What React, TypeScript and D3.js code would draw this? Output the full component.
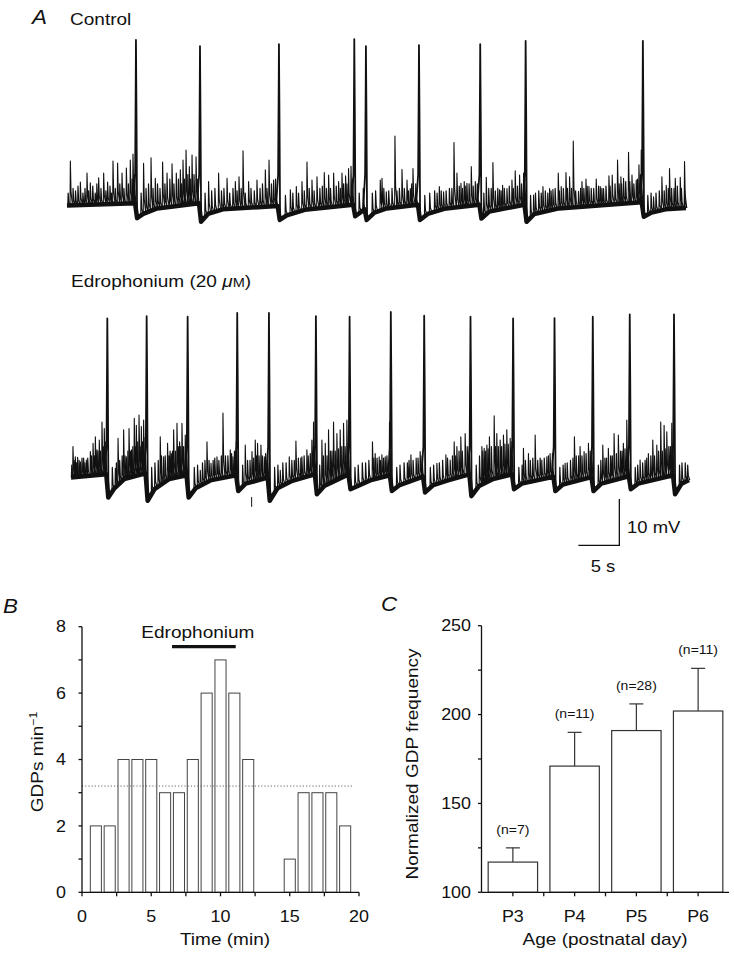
import React from "react";
import * as d3 from "d3";

const FONT = "'Liberation Sans', Arial, Helvetica, sans-serif";
const SX = 1.12;
const INK = "#111";

// ---------------- Panel A (time in s, potential in mV above resting level) ----------------
const controlDuration = 75.5;
const controlGDPs: [number, number][] = [
  [8.41, 36.0], [16.22, 34.7], [25.85, 35.1], [35.04, 36.2], [36.46, 34.7],
  [42.93, 34.9], [50.4, 35.1], [55.94, 35.8], [70.24, 35.8],
];
const controlBaseline: [number, number][] = [
  [0, 0.3], [8.3, 0.8], [8.55, -2.4], [9.3, -1.5], [11, -0.3], [16.1, 0.8], [16.35, -3.2],
  [17.2, -1.5], [19, -0.5], [25.7, 0.2], [25.95, -2.8], [26.8, -1.8], [29, -0.6], [34.9, 0.5],
  [35.15, -2.0], [36.3, -0.5], [36.55, -2.8], [37.5, -1.2], [39, -0.3], [42.8, 0.5], [43.05, -2.8],
  [44.0, -1.5], [46, -0.4], [50.3, 0.5], [50.55, -2.5], [51.5, -1.0], [55.8, 0.5], [56.05, -3.2],
  [57.0, -1.5], [60, -0.3], [70.1, 1.0], [70.35, -2.1], [71.3, -1.2], [73, -0.5], [75.5, -0.2],
];
const controlEvents: [number, number][] = [
  [0.37, 9.9], [1.59, 5.4], [2.4, 7.3], [2.8, 5.2], [3.82, 6.3], [4.43, 7.3], [4.91, 5.4], [5.57, 9.9],
  [6.13, 9.5], [6.67, 7.3], [7.2, 8.4], [7.68, 10.1], [8.01, 11.4],
  [9.3, 9.4], [10.21, 10.6], [10.73, 6.2], [11.62, 9.7], [12.16, 7.3], [12.77, 9.3], [13.29, 7.3],
  [13.78, 8.0], [14.11, 10.1], [14.48, 12.3], [14.88, 8.7], [15.21, 11.2], [15.7, 10.8],
  [17.23, 5.5], [18.45, 7.3], [19.48, 6.2], [20.49, 5.5], [20.94, 6.5], [21.43, 12.1], [22.11, 5.5],
  [23.13, 5.8], [24.15, 8.0], [24.6, 10.1], [25.16, 5.8],
  [27.2, 3.7], [27.93, 4.4], [28.62, 5.5], [29.23, 9.7], [29.84, 5.8], [30.45, 6.5], [31.34, 7.4],
  [31.87, 6.9], [32.48, 7.3], [33.09, 5.5], [33.5, 7.3], [33.94, 6.7], [34.3, 8.3], [34.6, 8.8],
  [38.17, 5.8], [38.38, 6.2], [38.9, 3.3], [39.96, 15.3], [40.82, 8.1], [41.43, 5.8], [41.83, 4.0], [42.16, 8.3],
  [45.37, 4.4], [45.89, 3.3], [47.16, 13.9], [47.52, 7.3], [48.01, 5.1], [48.41, 5.5], [48.74, 5.1],
  [49.27, 8.7], [49.76, 5.5],
  [51.1, 6.4], [51.91, 9.6], [52.72, 3.7], [53.09, 4.7], [53.62, 4.0], [54.23, 5.8], [54.63, 7.8],
  [55.16, 6.9], [55.65, 7.3],
  [56.87, 2.6], [58.01, 4.4], [58.82, 4.0], [59.23, 3.8], [59.88, 7.3], [60.24, 4.4], [60.82, 7.4],
  [61.26, 6.5], [61.71, 14.2], [62.35, 3.4], [62.77, 5.5], [63.26, 6.0], [63.62, 4.4], [64.51, 6.0],
  [65.0, 4.4], [65.4, 4.0], [66.06, 6.7], [66.46, 6.9], [67.11, 10.1], [67.52, 6.5], [67.84, 6.2],
  [68.45, 11.8], [68.87, 6.9], [69.39, 5.8], [69.72, 9.1], [70.0, 12.3],
  [71.5, 2.2], [72.52, 6.5], [73.05, 4.7], [73.45, 8.3], [74.15, 6.2], [74.76, 6.4], [75.28, 9.8],
];
// small, dense synaptic events that thicken the baseline band
const controlMinor: [number, number][] = [
  [0.1, 3], [0.7, 4], [1.0, 3.5], [1.3, 4.5], [1.9, 3], [2.15, 4], [2.6, 3.5], [3.1, 4.5], [3.4, 3], [3.6, 5],
  [4.1, 4], [4.7, 3.5], [5.2, 4.5], [5.4, 3], [5.85, 4], [6.4, 5], [6.9, 4], [7.45, 5], [7.9, 6], [8.2, 7],
  [9.0, 3], [9.6, 4], [9.9, 5], [10.45, 4], [11.0, 5], [11.3, 4], [11.9, 5], [12.5, 6], [13.0, 5], [13.55, 6],
  [13.95, 5], [14.3, 6], [14.7, 7], [15.05, 6], [15.45, 7], [15.9, 6],
  [16.8, 3], [17.6, 3.5], [18.0, 4], [18.8, 3.5], [19.1, 4], [19.8, 3], [20.2, 4], [20.7, 3.5], [21.2, 4],
  [21.7, 3], [22.4, 4], [22.8, 3.5], [23.5, 4], [23.8, 5], [24.35, 4], [24.9, 5], [25.4, 6],
  [26.6, 2.5], [27.5, 3], [28.2, 3], [28.9, 3.5], [29.5, 4], [30.1, 3.5], [30.8, 4], [31.1, 4.5], [31.6, 4],
  [32.1, 4], [32.8, 4.5], [33.3, 4], [33.7, 5], [34.1, 5], [34.8, 6],
  [35.6, 3], [36.1, 4], [37.2, 3], [37.6, 3.5], [38.6, 4], [39.2, 3.5], [39.6, 4], [40.2, 3.5], [40.5, 4],
  [41.1, 4], [41.6, 3.5], [42.0, 5], [42.5, 5],
  [43.6, 2.5], [44.2, 3], [44.8, 3.5], [45.1, 3], [45.6, 3.5], [46.2, 3.5], [46.6, 4], [46.9, 4], [47.8, 4.5],
  [48.2, 4], [48.6, 4.5], [49.0, 5], [49.5, 4.5], [50.0, 5],
  [50.8, 3], [51.4, 4], [51.7, 4], [52.2, 3.5], [52.5, 4], [52.9, 3.5], [53.3, 4], [53.9, 4.5], [54.4, 4],
  [54.9, 4.5], [55.4, 5], [55.8, 6],
  [56.5, 2.5], [57.1, 3], [57.5, 3.5], [57.8, 3], [58.3, 3.5], [58.6, 3], [59.0, 3.5], [59.5, 4], [60.0, 3.5],
  [60.5, 4], [61.0, 4], [61.5, 4], [62.0, 3.5], [62.6, 4], [63.0, 4], [63.4, 4.5], [63.9, 4], [64.2, 4],
  [64.8, 4.5], [65.2, 4], [65.7, 4.5], [66.2, 4.5], [66.8, 5], [67.3, 5], [67.6, 5], [68.1, 5.5], [68.6, 5.5],
  [69.1, 5], [69.55, 6], [69.9, 7],
  [70.8, 2.5], [71.2, 3], [71.8, 3], [72.2, 3.5], [72.8, 3.5], [73.3, 4], [73.7, 4], [74.0, 4], [74.4, 4.5],
  [74.9, 4], [75.3, 3.5],
];

const edroDuration = 75.4;
const edroGDPs: [number, number][] = [
  [4.43, 34.6], [9.23, 35.1], [14.23, 35.0], [20.28, 35.8], [24.15, 35.8], [29.88, 35.1],
  [33.99, 35.0], [39.02, 36.0], [43.09, 35.2], [48.74, 35.0], [53.94, 34.6], [58.99, 34.7],
  [63.66, 35.0], [68.17, 35.5], [73.57, 35.5],
];
const edroBaseline: [number, number][] = [
  [0, 0.3], [4.3, 1.0], [4.55, -4.0], [5.3, -2], [6.5, 0], [9.1, 1.2], [9.35, -4.7], [10.2, -2.2],
  [12, 0], [14.1, 0.8], [14.35, -4.0], [15.2, -2.0], [17, -0.3], [20.15, 0.8], [20.4, -2.6],
  [21.3, -1.0], [24.0, 0.3], [24.25, -4.7], [25.2, -2.0], [27, -0.4], [29.75, 1.0], [30.0, -3.3],
  [30.9, -1.5], [33.85, 1.0], [34.1, -2.2], [35.0, -1.5], [36.5, -0.3], [38.9, 0.8], [39.15, -2.6],
  [40.1, -1.3], [42.95, 0.5], [43.2, -2.9], [44.2, -1.3], [46, -0.3], [48.6, 1.0], [48.85, -3.7],
  [49.8, -1.5], [51.5, 0], [53.8, 1.0], [54.05, -2.2], [55.0, -1.0], [58.85, 0.5], [59.1, -2.6],
  [60.0, -1.2], [63.5, 0.4], [63.75, -2.6], [64.7, -1.0], [68.05, 0.6], [68.3, -2.2], [69.2, -1.0],
  [73.45, 0.8], [73.7, -3.3], [74.5, -1.0], [75.4, -0.2],
];
const edroEvents: [number, number][] = [
  [0.2, 7.0], [0.49, 4.8], [0.77, 4.7], [1.1, 3.7], [1.5, 4.5], [1.83, 4.1], [2.32, 5.9], [2.65, 7.7],
  [2.93, 9.1], [3.13, 6.3], [3.41, 8.4], [3.74, 12.3], [4.02, 10.9],
  [5.37, 2.3], [5.7, 8.8], [6.38, 10.6], [6.71, 4.8], [7.04, 10.9], [7.35, 6.3], [7.68, 13.1],
  [7.93, 11.6], [8.26, 13.8], [8.54, 11.3], [8.82, 12.7],
  [10.85, 9.1], [11.26, 4.8], [11.74, 7.7], [12.2, 5.5], [12.48, 10.6], [12.89, 12.0], [13.21, 8.0],
  [13.5, 12.0], [13.9, 9.5],
  [15.73, 1.9], [16.55, 8.0], [17.04, 3.4], [17.77, 4.8], [18.5, 14.2], [19.39, 6.3], [19.72, 4.8], [20.12, 8.0],
  [21.22, 7.3], [22.04, 5.9], [22.44, 8.4], [22.72, 7.7], [23.13, 7.3], [23.54, 4.8],
  [25.49, 1.9], [26.59, 4.8], [27.4, 8.2], [28.13, 4.8], [28.74, 6.3], [29.35, 8.4], [29.55, 12.3],
  [30.57, 8.4], [30.98, 7.7], [31.38, 10.6], [31.99, 12.3], [32.4, 9.8], [32.8, 10.6], [33.21, 12.0], [33.62, 12.7],
  [36.74, 8.0], [37.07, 5.5], [37.56, 4.8], [37.89, 5.2], [38.29, 4.8], [38.82, 12.3],
  [41.43, 5.2], [42.07, 4.5], [42.56, 5.9],
  [44.6, 3.4], [45.7, 5.2], [46.22, 4.1], [46.71, 8.0], [47.04, 7.0], [47.52, 9.1], [48.05, 9.8],
  [50.09, 7.0], [50.37, 6.6], [50.7, 7.3], [51.01, 9.1], [51.59, 13.6], [51.91, 9.8], [52.32, 8.4],
  [52.72, 9.5], [53.13, 10.6], [53.54, 8.8],
  [55.16, 6.6], [55.77, 5.5], [56.59, 9.5], [57.4, 4.1], [58.01, 4.8], [58.41, 5.5],
  [60.24, 3.4], [61.38, 9.1], [62.07, 7.0], [62.56, 5.9], [63.09, 7.7],
  [64.84, 7.3], [65.52, 6.6], [66.22, 9.8], [66.74, 9.5], [67.35, 7.7], [67.77, 12.7],
  [69.39, 4.1], [70.4, 5.5], [70.94, 8.4], [71.43, 7.3], [71.91, 12.3], [72.32, 11.6], [72.65, 10.2], [73.26, 12.0],
];
const edroMinor: [number, number][] = [
  [0.05, 3], [0.35, 4], [0.63, 3.5], [0.95, 4], [1.3, 4.5], [1.65, 3.5], [2.0, 4.5], [2.45, 5], [2.8, 5],
  [3.25, 6], [3.55, 6], [3.9, 7], [4.2, 8],
  [5.0, 2.5], [5.5, 3.5], [5.9, 4], [6.2, 5], [6.55, 5], [6.9, 6], [7.2, 6], [7.5, 7], [7.8, 7], [8.1, 8],
  [8.4, 7], [8.7, 8], [9.0, 9],
  [9.8, 2.5], [10.2, 3.5], [10.6, 4], [11.0, 5], [11.45, 5], [11.9, 5], [12.05, 6], [12.35, 6], [12.7, 6],
  [13.05, 7], [13.35, 7], [13.7, 7], [14.05, 8],
  [15.0, 2.5], [15.4, 3], [16.0, 3.5], [16.3, 4], [16.8, 4], [17.3, 4], [17.5, 4.5], [18.0, 4], [18.3, 5],
  [18.8, 5], [19.1, 5], [19.55, 5.5], [19.9, 6], [20.15, 7],
  [20.9, 3], [21.5, 4], [21.8, 4], [22.25, 4.5], [22.6, 5], [22.9, 5], [23.3, 5], [23.7, 5.5], [23.95, 6],
  [24.8, 2.5], [25.2, 3], [25.8, 3.5], [26.2, 3.5], [26.9, 4], [27.2, 4], [27.7, 4.5], [28.0, 4.5], [28.4, 5],
  [28.9, 5], [29.15, 5.5], [29.7, 7],
  [30.3, 3], [30.75, 5], [31.2, 5], [31.6, 6], [31.8, 6], [32.2, 6], [32.6, 6.5], [33.0, 7], [33.4, 7], [33.8, 8],
  [34.6, 2.5], [35.0, 3], [35.5, 3.5], [35.9, 3.5], [36.3, 4], [36.9, 4.5], [37.3, 4.5], [37.7, 4], [38.1, 4.5],
  [38.5, 5], [38.9, 6],
  [39.7, 2.5], [40.1, 3], [40.6, 3.5], [41.0, 3.5], [41.2, 4], [41.7, 4], [42.3, 4.5], [42.8, 5],
  [43.8, 2.5], [44.2, 3], [44.9, 3.5], [45.3, 4], [45.9, 4.5], [46.5, 5], [46.9, 5], [47.3, 6], [47.7, 6],
  [48.3, 7], [48.55, 7],
  [49.4, 3], [49.8, 5], [50.2, 6], [50.55, 6], [50.85, 6.5], [51.25, 7], [51.75, 7], [52.1, 7], [52.5, 7],
  [52.9, 7.5], [53.3, 7.5], [53.75, 8],
  [54.6, 2.5], [55.0, 3], [55.4, 4], [56.0, 4], [56.3, 4.5], [56.9, 4], [57.2, 4.5], [57.7, 4.5], [58.2, 5], [58.7, 5.5],
  [59.6, 2.5], [60.0, 3], [60.5, 3.5], [60.9, 4], [61.2, 4.5], [61.6, 5], [61.9, 5], [62.3, 5], [62.8, 5.5],
  [63.3, 6], [63.5, 6],
  [64.3, 3], [64.6, 4], [65.1, 4.5], [65.3, 4.5], [65.8, 5], [66.0, 5], [66.5, 5.5], [67.0, 6], [67.2, 6],
  [67.55, 6.5], [67.95, 7],
  [68.8, 2.5], [69.1, 3], [69.7, 3.5], [70.0, 4], [70.2, 4.5], [70.7, 5], [71.15, 5], [71.65, 6], [72.1, 6],
  [72.45, 6.5], [72.9, 7], [73.1, 7], [73.4, 7.5],
  [74.2, 3], [74.5, 3.5], [74.9, 3.5], [75.2, 3],
];
const edroArtifact: [number, number, number] = [22.04, -3.9, -6.0];
const scaleBarSeconds = 5;
const scaleBarMillivolts = 10;

// ---------------- Panel B ----------------
const minutes = [1, 2, 3, 4, 5, 6, 7, 8, 9, 10, 11, 12, 13, 14, 15, 16, 17, 18, 19];
const gdpRate = [2, 2, 4, 4, 4, 3, 3, 4, 6, 7, 6, 4, 0, 0, 1, 3, 3, 3, 2];
const controlMeanRate = 3.2;
const drugPeriod: [number, number] = [6.5, 11.1];
const bXTicks = [0, 2.5, 5, 7.5, 10, 12.5, 15, 17.5, 20];
const bXLabels = [0, 5, 10, 15, 20];
const bYTicks = [0, 1, 2, 3, 4, 5, 6, 7, 8];
const bYLabels = [0, 2, 4, 6, 8];

// ---------------- Panel C ----------------
const ages = ["P3", "P4", "P5", "P6"];
const normFreq = [117, 171, 191, 202];
const normSem = [8, 19, 15, 24];
const nCells = [7, 11, 28, 11];
const cYTicks = [100, 125, 150, 175, 200, 225, 250];
const cYLabels = [100, 150, 200, 250];

type TP = {
  x: number; y: number; size: number; anchor?: string; rotate?: number; italic?: boolean;
  children?: React.ReactNode; sx?: number;
};
function T({ x, y, size, anchor = "start", rotate = 0, italic = false, children, sx = SX }: TP) {
  return (
    <text
      transform={`translate(${x},${y})${rotate ? ` rotate(${rotate})` : ""} scale(${sx},1)`}
      fontSize={size}
      textAnchor={anchor as any}
      fontFamily={FONT}
      fontStyle={italic ? "italic" : "normal"}
      fill={INK}
    >
      {children}
    </text>
  );
}

function Trace({
  baseline, events, minor, gdps, x, y,
}: {
  baseline: [number, number][]; events: [number, number][]; minor: [number, number][];
  gdps: [number, number][];
  x: d3.ScaleLinear<number, number>; y: d3.ScaleLinear<number, number>;
}) {
  const b = d3.scaleLinear().domain(baseline.map((d) => d[0])).range(baseline.map((d) => d[1])).clamp(true);
  const line = d3.line<[number, number]>().x((d) => x(d[0])).y((d) => y(d[1]));
  const basePath = line(baseline) || "";
  const evShape = ([t, a]: [number, number]) =>
    line([[t, b(t)], [t + 0.04, a], [t + 0.12, b(t) + (a - b(t)) * 0.3], [t + 0.3, b(t + 0.3)]]);
  const evPath = events.map(evShape).join("");
  const minorPath = minor.map(evShape).join("");
  const gdpPath = gdps
    .map(([t, a]) =>
      line([[t - 0.35, b(t - 0.35)], [t - 0.1, 7], [t - 0.02, a * 0.8], [t, a], [t + 0.06, a * 0.6], [t + 0.14, b(t + 0.14)]]),
    )
    .join("");
  return (
    <g fill="none" stroke={INK} strokeLinejoin="round">
      <path d={basePath} strokeWidth={4.5} />
      <path d={minorPath} strokeWidth={1.2} />
      <path d={evPath} strokeWidth={1.1} />
      <path d={gdpPath} strokeWidth={1.8} />
    </g>
  );
}

export default function App() {
  // Panel A scales
  const xTop = d3.scaleLinear().domain([0, controlDuration]).range([67, 686]);
  const yTop = d3.scaleLinear().domain([0, 36]).range([207, 40]);
  const xBot = d3.scaleLinear().domain([0, edroDuration]).range([71, 689]);
  const yBot = d3.scaleLinear().domain([0, 36]).range([479, 312]);
  const sbT = 66.9;
  const sbV = -14.3;

  // Panel B scales
  const xB = d3.scaleLinear().domain([0, 20]).range([82, 359]);
  const yB = d3.scaleLinear().domain([0, 8]).range([892.3, 626.7]);
  const barW = 0.8;

  // Panel C scales
  const xC = d3.scaleBand<string>().domain(ages).range([482, 729]).paddingInner(0.2).paddingOuter(0.1);
  const yC = d3.scaleLinear().domain([100, 250]).range([892.3, 625.7]);
  const step = xC.step();
  const cXTicks: number[] = [];
  ages.forEach((a, i) => {
    cXTicks.push((xC(a) as number) + xC.bandwidth() / 2);
    if (i > 0) cXTicks.push((xC(a) as number) - (step - xC.bandwidth()) / 2);
  });

  return (
    <svg
      width={734}
      height={958}
      style={{ position: "absolute", left: 0, top: 0, background: "#fff" }}
    >
      <rect x={0} y={0} width={734} height={958} fill="#fff" />

      {/* ---------- Panel A ---------- */}
      <T x={32} y={24} size={20} italic>A</T>
      <T x={70} y={25} size={17}>Control</T>
      <Trace baseline={controlBaseline} events={controlEvents} minor={controlMinor} gdps={controlGDPs} x={xTop} y={yTop} />

      <T x={71} y={286.7} size={17}>
        Edrophonium (20 <tspan fontStyle="italic">μ</tspan><tspan fontSize={13}>M</tspan>)
      </T>
      <Trace baseline={edroBaseline} events={edroEvents} minor={edroMinor} gdps={edroGDPs} x={xBot} y={yBot} />
      <line
        x1={xBot(edroArtifact[0])} x2={xBot(edroArtifact[0])}
        y1={yBot(edroArtifact[1])} y2={yBot(edroArtifact[2])}
        stroke={INK} strokeWidth={1}
      />

      {/* scale bar */}
      <path
        d={`M${xBot(sbT - scaleBarSeconds)},${yBot(sbV)}H${xBot(sbT)}V${yBot(sbV + scaleBarMillivolts)}`}
        fill="none" stroke={INK} strokeWidth={1.3}
      />
      <T x={627} y={533} size={16.5}>10 mV</T>
      <T x={603} y={571.5} size={16.5} anchor="middle">5 s</T>

      {/* ---------- Panel B ---------- */}
      <T x={3} y={613} size={20} italic>B</T>
      {minutes.map((m, i) =>
        gdpRate[i] > 0 ? (
          <rect
            key={m}
            x={xB(m - barW / 2)}
            y={yB(gdpRate[i])}
            width={xB(m + barW / 2) - xB(m - barW / 2)}
            height={yB(0) - yB(gdpRate[i])}
            fill="#fff"
            stroke="#444"
            strokeWidth={1}
          />
        ) : null,
      )}
      <line
        x1={xB(0)} x2={xB(19.5)} y1={yB(controlMeanRate)} y2={yB(controlMeanRate)}
        stroke="#666" strokeWidth={1} strokeDasharray="1.2,2"
      />
      <line
        x1={xB(drugPeriod[0])} x2={xB(drugPeriod[1])} y1={yB(7.4)} y2={yB(7.4)}
        stroke={INK} strokeWidth={3.2}
      />
      <T x={(xB(drugPeriod[0]) + xB(drugPeriod[1])) / 2 - 6} y={638} size={17} anchor="middle">Edrophonium</T>
      <g stroke={INK} strokeWidth={1.3}>
        <line x1={xB(0)} x2={xB(0)} y1={yB(0)} y2={yB(8)} />
        <line x1={xB(0)} x2={xB(20)} y1={yB(0)} y2={yB(0)} />
        {bYTicks.map((t) => (
          <line key={"by" + t} x1={xB(0) - 3.5} x2={xB(0)} y1={yB(t)} y2={yB(t)} />
        ))}
        {bXTicks.map((t) => (
          <line key={"bx" + t} x1={xB(t)} x2={xB(t)} y1={yB(0)} y2={yB(0) + 4} />
        ))}
      </g>
      {bYLabels.map((t) => (
        <T key={"byl" + t} x={66} y={yB(t) + 5.7} size={16} anchor="end">{t}</T>
      ))}
      {bXLabels.map((t) => (
        <T key={"bxl" + t} x={xB(t)} y={921.7} size={16} anchor="middle">{t}</T>
      ))}
      <T x={225} y={945} size={17} anchor="middle">Time (min)</T>
      <T x={43} y={762} size={17} anchor="middle" rotate={-90}>
        GDPs min<tspan fontSize={11} dy={-6}>−1</tspan>
      </T>

      {/* ---------- Panel C ---------- */}
      <T x={381} y={611} size={20} italic>C</T>
      {ages.map((a, i) => {
        const x0 = xC(a) as number;
        const cx = x0 + xC.bandwidth() / 2;
        return (
          <g key={a}>
            <line
              x1={cx} x2={cx} y1={yC(normFreq[i])} y2={yC(normFreq[i] + normSem[i])}
              stroke="#333" strokeWidth={1.2}
            />
            <line
              x1={cx - 7} x2={cx + 7} y1={yC(normFreq[i] + normSem[i])} y2={yC(normFreq[i] + normSem[i])}
              stroke="#333" strokeWidth={1.2}
            />
            <rect
              x={x0} y={yC(normFreq[i])} width={xC.bandwidth()} height={yC(100) - yC(normFreq[i])}
              fill="#fff" stroke="#333" strokeWidth={1.2}
            />
            <T x={cx} y={yC(normFreq[i] + normSem[i]) - 14} size={12.5} anchor="middle">
              (n={nCells[i]})
            </T>
            <T x={cx} y={921.7} size={16} anchor="middle">{a}</T>
          </g>
        );
      })}
      <g stroke={INK} strokeWidth={1.3}>
        <line x1={481.5} x2={481.5} y1={yC(100)} y2={yC(250)} />
        <line x1={481.5} x2={729} y1={yC(100)} y2={yC(100)} />
        {cYTicks.map((t) => (
          <line key={"cy" + t} x1={478} x2={481.5} y1={yC(t)} y2={yC(t)} />
        ))}
        {cXTicks.map((t, i) => (
          <line key={"cx" + i} x1={t} x2={t} y1={yC(100)} y2={yC(100) + 4} />
        ))}
      </g>
      {cYLabels.map((t) => (
        <T key={"cyl" + t} x={471} y={yC(t) + 5.7} size={16} anchor="end">{t}</T>
      ))}
      <T x={605} y={945} size={17} anchor="middle">Age (postnatal day)</T>
      <T x={417.5} y={764} size={17} anchor="middle" rotate={-90}>Normalized GDP frequency</T>
    </svg>
  );
}
